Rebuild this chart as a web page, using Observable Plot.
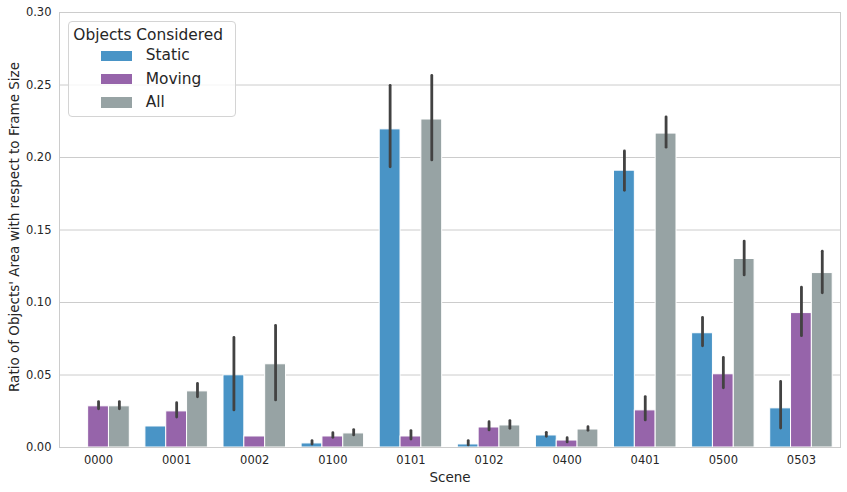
<!DOCTYPE html>
<html>
<head>
<meta charset="utf-8">
<script src="https://cdn.jsdelivr.net/npm/d3@7"></script>
<script src="https://cdn.jsdelivr.net/npm/@observablehq/plot@0.6"></script>
<style>
  body { margin: 0; background: white; }
  #wrap { position: relative; width: 847px; height: 492px; font-family: "DejaVu Sans", sans-serif; color: #262626; }
  #legend { position: absolute; left: 67.7px; top: 20.7px; width: 168.6px; height: 96.6px; box-sizing: border-box;
            border: 1px solid #d4d4d4; border-radius: 4px; background: rgba(255,255,255,0.8); font-size: 15.4px; line-height: 1; }
  #legend .t { position: absolute; white-space: nowrap; }
  #legend .sw { position: absolute; width: 31.3px; height: 10.3px; }
</style>
</head>
<body>
<div id="wrap"></div>
<script>
const scenes = ["0000", "0001", "0002", "0100", "0101", "0102", "0400", "0401", "0500", "0503"];
const series = ["Static", "Moving", "All"];
const colors = ["#4994c6", "#9664aa", "#97a3a4"];

const staticMean = [null, 0.0145, 0.0498, 0.0028, 0.2194, 0.0021, 0.0083, 0.1909, 0.0788, 0.0270];
const staticLo   = [null, null,   0.0256, 0.0020, 0.1932, 0.0014, 0.0074, 0.1770, 0.0698, 0.0131];
const staticHi   = [null, null,   0.0756, 0.0044, 0.2494, 0.0044, 0.0101, 0.2042, 0.0894, 0.0452];

const movingMean = [0.0284, 0.0249, 0.0076, 0.0076, 0.0076, 0.0138, 0.0048, 0.0256, 0.0505, 0.0927];
const movingLo   = [0.0263, 0.0207, null,   0.0067, 0.0055, 0.0118, 0.0035, 0.0187, 0.0408, 0.0768];
const movingHi   = [0.0313, 0.0306, null,   0.0099, 0.0113, 0.0175, 0.0064, 0.0348, 0.0618, 0.1102];

const allMean = [0.0284, 0.0387, 0.0574, 0.0097, 0.2262, 0.0152, 0.0124, 0.2165, 0.1300, 0.1203];
const allLo   = [0.0263, 0.0346, 0.0325, 0.0083, 0.1980, 0.0129, 0.0115, 0.2068, 0.1187, 0.1063];
const allHi   = [0.0313, 0.0438, 0.0839, 0.0120, 0.2562, 0.0182, 0.0140, 0.2277, 0.1420, 0.1350];

const yTicks = [0, 0.05, 0.10, 0.15, 0.20, 0.25, 0.30];

const means = [staticMean, movingMean, allMean];
const los = [staticLo, movingLo, allLo];
const his = [staticHi, movingHi, allHi];

const groupWidth = 0.8, nSeries = series.length, bw = groupWidth / nSeries;
const rows = [];
scenes.forEach((scene, i) => {
  series.forEach((s, j) => {
    rows.push({scene, series: s, i, j, value: means[j][i], lo: los[j][i], hi: his[j][i]});
  });
});
const barRows = rows.filter(d => d.value != null);
const errRows = rows.filter(d => d.lo != null && d.hi != null);
const left = d => d.i - groupWidth / 2 + d.j * bw;

const chart = Plot.plot({
  width: 847,
  height: 492,
  marginLeft: 59,
  marginRight: 7,
  marginTop: 12,
  marginBottom: 45,
  style: {fontFamily: "DejaVu Sans", fontSize: "11.5px", color: "#262626", background: "white"},
  x: {domain: [-0.5, scenes.length - 0.5]},
  y: {domain: [0, 0.30]},
  color: {domain: series, range: colors},
  marks: [
    Plot.ruleY(yTicks, {stroke: "#cccccc", strokeWidth: 1}),
    Plot.rect(barRows, {
      x1: left,
      x2: d => left(d) + bw,
      y1: d => 0,
      y2: "value",
      fill: "series",
      stroke: "white",
      strokeWidth: 1
    }),
    Plot.ruleX(errRows, {
      x: d => left(d) + bw / 2,
      y1: "lo",
      y2: "hi",
      stroke: "#424242",
      strokeWidth: 2.8,
      strokeLinecap: "round"
    }),
    Plot.frame({stroke: "#cccccc", strokeWidth: 1}),
    Plot.axisY(yTicks, {tickSize: 0, tickPadding: 8, tickFormat: d3.format(".2f"), label: null, fontSize: 11.5}),
    Plot.axisX(d3.range(scenes.length), {tickSize: 0, tickPadding: 8, tickFormat: i => scenes[i], label: null, fontSize: 11.5}),
    Plot.text(["Scene"], {frameAnchor: "bottom", lineAnchor: "middle", textAnchor: "middle", dy: 30, fontSize: 13.5, fill: "#262626"}),
    Plot.text(["Ratio of Objects' Area with respect to Frame Size"], {frameAnchor: "left", lineAnchor: "middle", textAnchor: "middle", rotate: -90, dx: -45, dy: -3, fontSize: 13.5, fill: "#262626"})
  ]
});

const wrap = document.getElementById("wrap");
wrap.appendChild(chart);

// legend overlay built from series/colors
const legend = document.createElement("div");
legend.id = "legend";
const title = document.createElement("div");
title.className = "t";
title.style.left = "4.6px";
title.style.top = "5.9px";
title.textContent = "Objects Considered";
legend.appendChild(title);
series.forEach((s, j) => {
  const sw = document.createElement("div");
  sw.className = "sw";
  sw.style.left = "32.3px";
  sw.style.top = (29 + j * 23.3) + "px";
  sw.style.background = colors[j];
  legend.appendChild(sw);
  const t = document.createElement("div");
  t.className = "t";
  t.style.left = "77px";
  t.style.top = (26.8 + j * 23.3) + "px";
  t.textContent = s;
  legend.appendChild(t);
});
wrap.appendChild(legend);
</script>
</body>
</html>
